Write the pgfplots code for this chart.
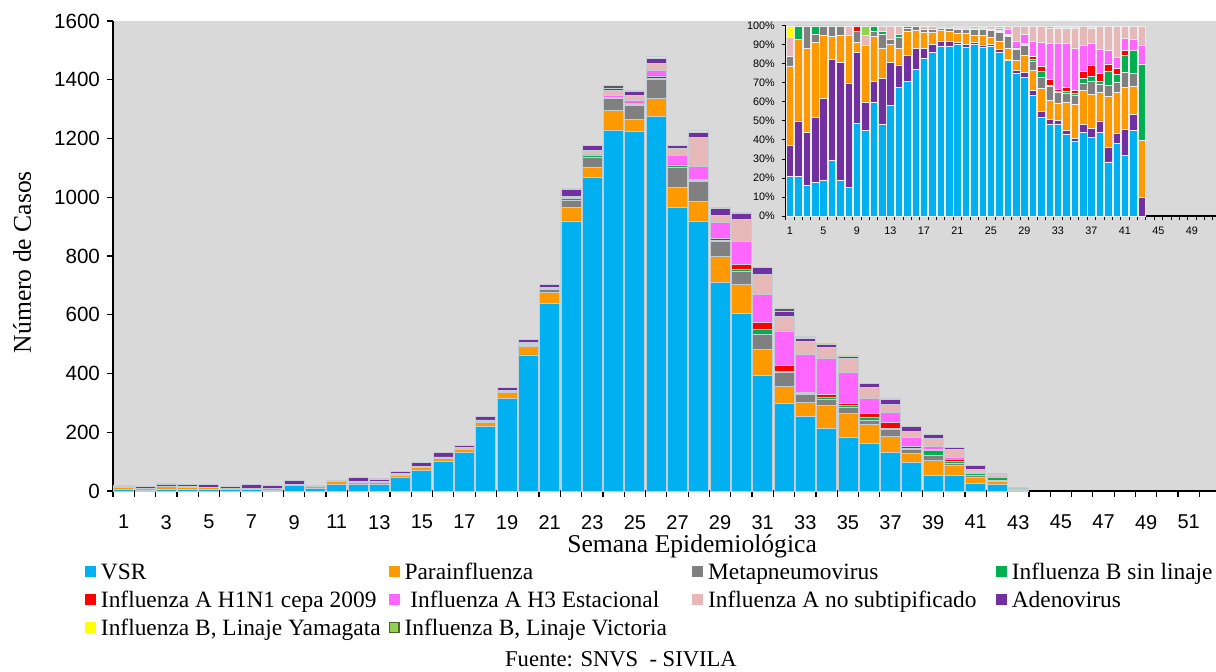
\documentclass[border=0pt]{standalone}
\usepackage{fontspec}
\setmainfont{Liberation Serif}
\newfontfamily\sansf{Liberation Sans}
\usepackage{pgfplots}
\usepackage{pgfplotstable}
\pgfplotsset{compat=1.18}
\definecolor{cVSR}{HTML}{00B0F0}
\definecolor{cPara}{HTML}{FF9900}
\definecolor{cMeta}{HTML}{808080}
\definecolor{cBsin}{HTML}{00B050}
\definecolor{cHone}{HTML}{FF0000}
\definecolor{cHthree}{HTML}{FF66FF}
\definecolor{cNosub}{HTML}{E6B9B8}
\definecolor{cAdeno}{HTML}{7030A0}
\definecolor{cYam}{HTML}{FFFF00}
\definecolor{cVic}{HTML}{92D050}
\definecolor{cVicB}{HTML}{4F6228}
\definecolor{cVicD}{HTML}{5A5A5A}
\definecolor{bggray}{HTML}{D9D9D9}
\definecolor{barline}{HTML}{C4CCD4}

% main chart: number of cases per week
\pgfplotstableread{
w V P M B H1 H3 N A Y Vi
1 4 8 1 0 0 0 2 3 1 0
2 3 6 0 1 0 0 0 4 0 0
3 4 10 3 0 0 0 0 7 0 0
4 4 9 1 1 0 0 0 8 0 0
5 4 7 1 0 0 0 0 10 0 0
6 5 2 1 0 0 0 0 9 0 0
7 4 3 1 0 0 0 0 13 0 0
8 3 5 0 0 0 0 1 11 0 0
9 18 2 2 0 1 0 0 13 0 0
10 9 6 0 0 0 0 1 3 0 1
11 22 9 1 1 0 0 0 4 0 0
12 21 7 3 1 0 0 2 11 0 0
13 24 4 1 0 0 0 3 9 0 0
14 46 6 4 1 0 0 3 8 0 0
15 69 12 2 1 0 0 0 13 0 0
16 100 12 3 0 0 0 1 14 0 0
17 130 13 3 0 0 0 2 8 0 0
18 219 15 4 1 0 0 3 12 0 0
19 315 19 5 1 0 0 3 9 0 0
20 463 28 6 3 0 1 4 12 0 0
21 639 37 10 3 0 2 3 9 1 0
22 917 48 23 7 0 3 5 23 4 0
23 1067 33 37 7 1 3 12 16 1 0
24 1229 65 41 5 0 8 17 6 0 10
25 1223 43 47 4 4 9 17 12 4 0
26 1274 62 65 3 9 19 23 19 4 0
27 964 70 69 4 3 31 25 10 0 0
28 917 70 67 4 4 44 99 17 4 0
29 709 88 53 4 5 54 26 22 4 0
30 603 99 45 8 15 79 74 23 4 0
31 392 90 52 17 23 96 68 23 0 0
32 297 60 47 4 18 119 48 19 0 9
33 255 45 28 3 6 129 43 12 4 0
34 212 79 22 4 11 125 37 9 5 0
35 182 83 20 6 7 106 47 8 4 0
36 162 65 15 10 12 50 37 16 0 0
37 130 56 24 4 18 36 28 15 5 0
38 98 31 11 5 8 28 23 15 0 0
39 54 51 17 15 4 11 28 12 0 0
40 54 33 7 8 6 7 25 9 0 0
41 27 19 6 8 3 3 7 15 0 0
42 23 9 5 9 0 2 5 5 0 0
43 0 3 2 2 0 1 1 4 0 0
}\maintab

% inset: percentage per week
\pgfplotstableread{
w V A P M B H1 H3 N Y Vi
1 21 16 42 5 0 0 0 10 6 0
2 21 29 43 0 7 0 0 0 0 0
3 16 28 44 12 0 0 0 0 0 0
4 17.5 34.5 39.5 4 4.5 0 0 0 0 0
5 19 43 33 5 0 0 0 0 0 0
6 29.5 53 12 5.5 0 0 0 0 0 0
7 19 62 14 5 0 0 0 0 0 0
8 15 55 25 0 0 0 0 5 0 0
9 49 37 5.5 5.5 0 3 0 0 0 0
10 45 15 30 0 0 0 0 5 0 5
11 60 11 23.5 2.5 3 0 0 0 0 0
12 48 24.5 16 7 1.5 0 0 3 0 0
13 58 23 9.5 2.5 0 0 0 7 0 0
14 67.5 12 8.5 6 1.5 0 0 4.5 0 0
15 71 13.5 12.5 2 1 0 0 0 0 0
16 77 11 9.5 2.5 0 0 0 0 0 0
17 83 5 8.5 2 0 0 0 1.5 0 0
18 86 4.5 6 2 0 0 0 1.5 0 0
19 89.5 2.5 5.5 1.5 0.5 0 0 0.5 0 0
20 89.5 2.5 5 2 0.5 0 0.5 0 0 0
21 90.5 1 4.5 2.5 0.5 0 0.5 0.5 0 0
22 89 1.5 5.5 2.5 0.5 0 0.5 0.5 0 0
23 90.5 1 3.5 3 0.5 0 0.5 1 0 0
24 89 1 5 3 0.5 0 0.5 0.5 0 0.5
25 89.5 1 3.5 3.5 0.5 0.5 0.5 1 0 0
26 86 1.5 4.5 4.5 0.5 0.5 1.5 1 0 0
27 82 0.5 6 6 0.5 0.5 2.5 2 0 0
28 75 1.5 5.5 5.5 0.5 0.5 3.5 8 0 0
29 73 2.5 9 5.5 0.5 0.5 4.5 4.5 0 0
30 63.5 2.5 10.5 5 1 1.5 8 8 0 0
31 52 3 12 6 3 3 12.5 8.5 0 0
32 48 3 10 7 1 3 19 8 0 1
33 48.5 2 9 5.5 0.5 1 24.5 8 1 0
34 43 2 15 4.5 1 2 23.5 8 1 0
35 39.5 1.5 18 4.5 1 1.5 22.5 10.5 1 0
36 44 4 18 4 2.5 3.5 14 10 0 0
37 41.5 4.5 18 7 2.5 6 11.5 8 1 0
38 44 6 15 4.5 1.5 4 12.5 12.5 0 0
39 28.5 7.5 27 6 7 4 7 13 0 0
40 38 5.5 21.5 5.5 4 3 6 16.5 0 0
41 32 13.5 22 8 9 2.5 6.5 6.5 0 0
42 45 8.5 14.5 7 12 0 6 7 0 0
43 0 10 30 0 40 0 10 10 0 0
}\insettab

\newcommand\lgt[1]{\makebox[146.3pt][l]{\hspace{2.5pt}\strut #1}}

\begin{document}
\begin{tikzpicture}
\useasboundingbox (0,0) rectangle (608pt,335.5pt);
\clip (0,0) rectangle (608pt,335.5pt);
\begin{axis}[
  at={(56.5pt,90pt)}, anchor=south west,
  scale only axis, width=551.5pt, height=235pt,
  xmin=0.5, xmax=52.28, ymin=0, ymax=1600,
  ybar stacked, bar width=10pt,
  axis background/.style={fill=bggray},
  axis x line*=bottom, axis y line*=left,
  axis line style={black, line width=0.6pt},
  tick align=outside, major tick length=3pt,
  tick style={black, line width=0.6pt},
  ytick={0,200,...,1600},
  xtick={0.5,1.5,...,51.5},
  xticklabels={1,,3,,5,,7,,9,,11,,13,,15,,17,,19,,21,,23,,25,,27,,29,,31,,33,,35,,37,,39,,41,,43,,45,,47,,49,,51,},
  xticklabel style={xshift=5.33pt, yshift=-5.5pt, font=\sansf\fontsize{10}{12}\selectfont},
  yticklabel style={font=\sansf\fontsize{10.3}{12}\selectfont},
  /pgf/number format/assume math mode=true,
  /pgf/number format/1000 sep={},
  ylabel={Número de Casos},
  ylabel style={at={(axis description cs:-0.0825,0.487)}, anchor=center, font=\fontsize{12.8}{15}\selectfont},
  xlabel={Semana Epidemiológica},
  xlabel style={at={(axis description cs:0.525,-0.117)}, anchor=center, font=\fontsize{12.8}{15}\selectfont},
  every axis plot/.append style={draw=barline, line width=0.4pt},
  legend image code/.code={\fill[#1,draw=none] (0pt,-2.75pt) rectangle (5.5pt,2.75pt);},
  legend columns=4,
  legend cell align=left,
  legend style={draw=none, fill=none, at={(-0.0254,-0.1468)}, anchor=north west,
    inner sep=0pt, outer sep=0pt, column sep=0pt, row sep=3pt,
    nodes={inner sep=0pt}, font=\fontsize{11.7}{13.7}\selectfont},
]
\addplot[fill=cVSR] table[x=w,y=V] {\maintab};
\addplot[fill=cPara] table[x=w,y=P] {\maintab};
\addplot[fill=cMeta] table[x=w,y=M] {\maintab};
\addplot[fill=cBsin] table[x=w,y=B] {\maintab};
\addplot[fill=cHone] table[x=w,y=H1] {\maintab};
\addplot[fill=cHthree] table[x=w,y=H3] {\maintab};
\addplot[fill=cNosub] table[x=w,y=N] {\maintab};
\addplot[fill=cAdeno] table[x=w,y=A] {\maintab};
\addplot[fill=cYam] table[x=w,y=Y] {\maintab};
\addplot[fill=cVicD, legend image code/.code={\filldraw[fill=cVic,draw=cVicB,line width=0.6pt] (0.3pt,-2.45pt) rectangle (5.2pt,2.45pt);}] table[x=w,y=Vi] {\maintab};
\legend{{\lgt{VSR}},{\lgt{Parainfluenza}},{\lgt{Metapneumovirus}},{\lgt{Influenza B sin linaje}},
{\lgt{Influenza A H1N1 cepa 2009}},{\lgt{ Influenza A H3 Estacional}},{\lgt{Influenza A no subtipificado}},{\lgt{Adenovirus}},
{\lgt{Influenza B, Linaje Yamagata}},{\lgt{Influenza B, Linaje Victoria}}}
\end{axis}

\begin{axis}[
  at={(392.9pt,227.5pt)}, anchor=south west,
  scale only axis, width=215.1pt, height=95pt,
  xmin=0.5, xmax=51.87, ymin=0, ymax=100,
  ybar stacked, bar width=3.75pt,
  axis x line*=bottom, axis y line*=left,
  axis line style={black, line width=0.6pt},
  tick align=outside, major tick length=2pt,
  tick style={black, line width=0.5pt},
  ytick={0,10,...,100},
  yticklabels={0\%,10\%,20\%,30\%,40\%,50\%,60\%,70\%,80\%,90\%,100\%},
  xtick={0.5,1.5,...,51.5},
  xticklabels={1,,,,5,,,,9,,,,13,,,,17,,,,21,,,,25,,,,29,,,,33,,,,37,,,,41,,,,45,,,,49,,,},
  xticklabel style={xshift=2.09pt, font=\sansf\fontsize{5.4}{6}\selectfont},
  yticklabel style={font=\sansf\fontsize{5.4}{6}\selectfont},
  every axis plot/.append style={draw=white!85!gray, line width=0.3pt},
]
\addplot[fill=cVSR] table[x=w,y=V] {\insettab};
\addplot[fill=cAdeno] table[x=w,y=A] {\insettab};
\addplot[fill=cPara] table[x=w,y=P] {\insettab};
\addplot[fill=cMeta] table[x=w,y=M] {\insettab};
\addplot[fill=cBsin] table[x=w,y=B] {\insettab};
\addplot[fill=cHone] table[x=w,y=H1] {\insettab};
\addplot[fill=cHthree] table[x=w,y=H3] {\insettab};
\addplot[fill=cNosub] table[x=w,y=N] {\insettab};
\addplot[fill=cYam] table[x=w,y=Y] {\insettab};
\addplot[fill=cVic] table[x=w,y=Vi] {\insettab};
\end{axis}

\node[font=\fontsize{11.3}{13}\selectfont] at (310.5pt,6pt) {Fuente: SNVS\ \ - SIVILA};
\end{tikzpicture}
\end{document}
